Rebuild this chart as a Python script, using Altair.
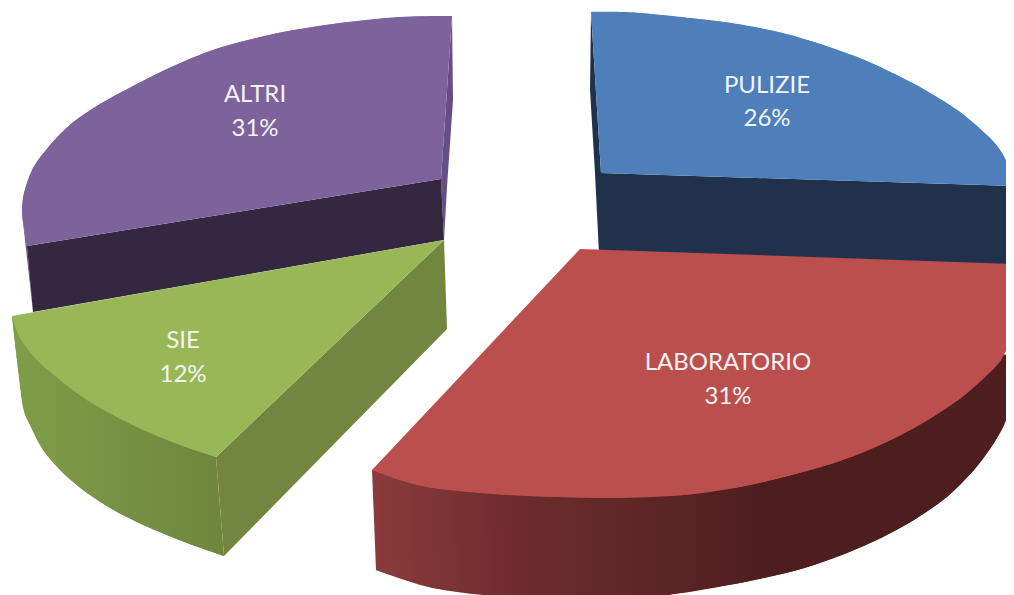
import altair as alt
import pandas as pd

categories = ["ALTRI", "PULIZIE", "SIE", "LABORATORIO"]
shares = [31, 26, 12, 31]
label_x = [255, 767, 183, 728]
name_y = [102, 93, 348, 370]
share_y = [136, 126, 382, 404]

# Outlines, in the picture's own units
altri_edge_x = [452, 453, 447, 444, 441]
altri_edge_y = [16, 100, 187, 240, 179]
altri_left_x = [22, 27, 33]
altri_left_y = [213, 246, 312]
altri_front_x = [27, 441, 444, 33]
altri_front_y = [246, 179, 240, 312]
altri_arc_x = [452, 400, 340, 283, 240, 207, 167, 133, 100, 72, 50, 33, 24, 22, 25, 27]
altri_arc_y = [16, 17, 23, 32, 42, 52, 69, 86, 104, 123, 145, 168, 193, 213, 233, 246]
altri_inner_x = [441]
altri_inner_y = [179]

pulizie_side_x = [591, 590, 595, 599, 1008, 1010, 1014, 1014, 601]
pulizie_side_y = [12, 90, 173, 254, 269, 233, 215, 186, 173]
pulizie_arc_x = [591, 640, 724, 774, 814, 857, 880, 920, 960, 990, 1002, 1010, 1014]
pulizie_arc_y = [12, 13, 22, 31, 42, 57, 67, 87, 112, 138, 153, 170, 186]
pulizie_inner_x = [601]
pulizie_inner_y = [173]

sie_outer_x = [12, 17, 23, 30, 43, 63, 87, 117, 150, 187, 224]
sie_outer_y = [316, 360, 407, 425, 450, 473, 493, 512, 528, 543, 556]
sie_outer_inner_x = [216]
sie_outer_inner_y = [457]
sie_right_x = [216, 444, 447, 224]
sie_right_y = [457, 240, 329, 556]
sie_arc_x = [12, 20, 37, 60, 87, 117, 150, 183, 216]
sie_arc_y = [316, 338, 360, 380, 400, 417, 433, 446, 457]
sie_inner_x = [444]
sie_inner_y = [240]

lab_outer_x = [376, 433, 507, 590, 667, 740, 790, 814, 847, 881, 914, 947, 974, 994, 1006, 1011, 1014]
lab_outer_y = [570, 588, 597, 600, 595, 583, 572, 565, 553, 538, 520, 497, 470, 443, 420, 393, 353]
lab_outer_inner_x = [372]
lab_outer_inner_y = [470]
lab_arc_x = [372, 400, 433, 507, 607, 684, 740, 780, 814, 837, 864, 901, 931, 961, 984, 1001, 1014]
lab_arc_y = [470, 480, 488, 495, 498, 495, 487, 478, 469, 462, 452, 435, 418, 398, 378, 360, 333]
lab_inner_x = [1014, 580]
lab_inner_y = [264, 249]


def grad(stops):
    return alt.Gradient(
        gradient="linear", x1=0, x2=1, y1=0, y2=0,
        stops=[alt.GradientStop(color=c, offset=o) for o, c in stops],
    )


X = alt.X("x:Q", axis=None, scale=alt.Scale(domain=[8, 1006], nice=False, zero=False))
Y = alt.Y("y:Q", axis=None, scale=alt.Scale(domain=[595, 8], nice=False, zero=False))


def face(xs, ys, fill, curve="linear"):
    if curve == "linear":
        xs, ys = list(xs) + [xs[0]], list(ys) + [ys[0]]
    df = pd.DataFrame({"x": xs, "y": ys})
    df["i"] = range(len(df))
    return alt.Chart(df).mark_line(
        fill=fill, strokeWidth=0, clip=True, interpolate=curve
    ).encode(x=X, y=Y, order="i:Q")


def curved(arc_x, arc_y, inner_x, inner_y, fill):
    return [face(arc_x + inner_x, arc_y + inner_y, fill), face(arc_x, arc_y, fill, "cardinal")]


labels = pd.DataFrame({
    "x": label_x * 2,
    "y": name_y + share_y,
    "t": categories + [f"{s}%" for s in shares],
})
text = alt.Chart(labels).mark_text(
    font="Lato", fontSize=24, color="#f4f4f4", align="center", baseline="alphabetic"
).encode(x=X, y=Y, text="t:N")

green_side = grad([(0, "#7f9e48"), (1, "#6f853e")])
red_side = grad([(0, "#8a3b3b"), (0.22, "#6e2c2c"), (0.42, "#5e2626"), (0.6, "#4e1e1e"), (1, "#4e1e1e")])

layers = [
    face(pulizie_side_x, pulizie_side_y, "#20324b"),
    *curved(pulizie_arc_x, pulizie_arc_y, pulizie_inner_x, pulizie_inner_y, "#4e7fba"),
    face(altri_edge_x, altri_edge_y, "#664f87"),
    face(altri_left_x, altri_left_y, "#664f87"),
    face(altri_front_x, altri_front_y, "#33283f"),
    *curved(altri_arc_x, altri_arc_y, altri_inner_x, altri_inner_y, "#7e629c"),
    *curved(sie_outer_x, sie_outer_y, sie_outer_inner_x, sie_outer_inner_y, green_side),
    face(sie_right_x, sie_right_y, "#72863f"),
    *curved(sie_arc_x, sie_arc_y, sie_inner_x, sie_inner_y, "#98b858"),
    *curved(lab_outer_x, lab_outer_y, lab_outer_inner_x, lab_outer_inner_y, red_side),
    *curved(lab_arc_x, lab_arc_y, lab_inner_x, lab_inner_y, "#bb4f4e"),
    text,
]

chart = alt.layer(*layers).properties(
    width=998, height=587, padding=0, background="white"
).configure_view(stroke=None)

chart.save("out.html", embed_options={"renderer": "svg", "actions": False})
